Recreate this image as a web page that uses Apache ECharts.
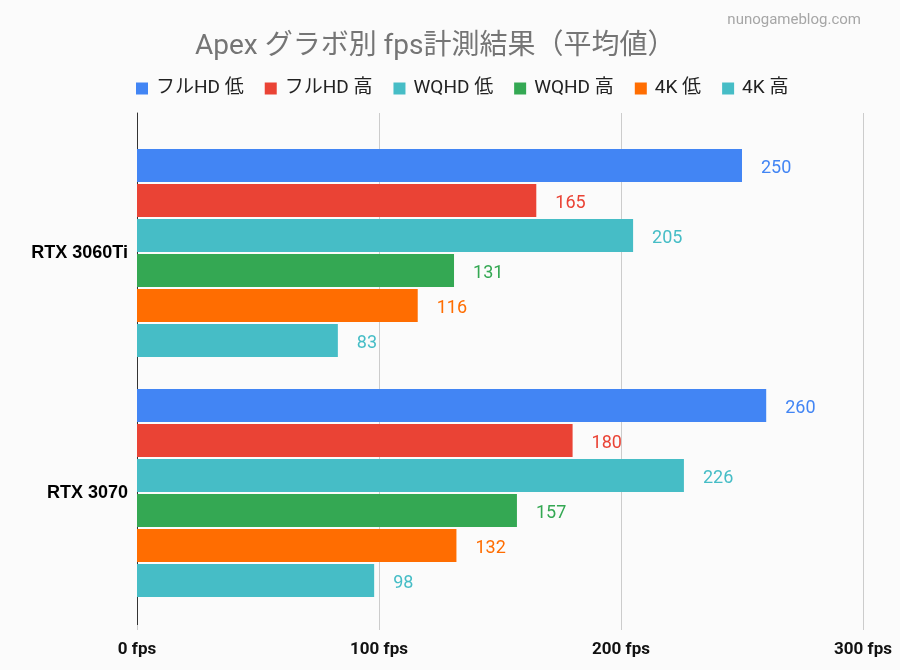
<!DOCTYPE html>
<html>
<head>
<meta charset="utf-8">
<script src="https://cdn.jsdelivr.net/npm/echarts@6/dist/echarts.min.js"></script>
<style>
  html, body { margin: 0; padding: 0; background: #fbfbfb; }
  #chart { width: 900px; height: 670px; }
</style>
</head>
<body>
<div id="chart"></div>
<script>
const categories = ['RTX 3060Ti', 'RTX 3070'];
const seriesNames = ['フルHD 低', 'フルHD 高', 'WQHD 低', 'WQHD 高', '4K 低', '4K 高'];
const fhdLow = [250, 260];
const fhdHigh = [165, 180];
const wqhdLow = [205, 226];
const wqhdHigh = [131, 157];
const k4Low = [116, 132];
const k4High = [83, 98];
const xTicks = [0, 100, 200, 300];
const colors = ['#4285f4', '#ea4335', '#46bdc6', '#34a853', '#ff6d01', '#46bdc6'];

const values = [fhdLow, fhdHigh, wqhdLow, wqhdHigh, k4Low, k4High];
const jpFont = 'Roboto, "Noto Sans CJK JP", sans-serif';

const chart = echarts.init(document.getElementById('chart'));
chart.setOption({
  backgroundColor: '#fbfbfb',
  animation: false,
  title: [
    {
      text: 'Apex グラボ別 fps計測結果（平均値）',
      left: 190, top: 28,
      textStyle: { color: '#757575', fontSize: 28, fontWeight: 'normal', fontFamily: jpFont }
    },
    {
      text: 'nunogameblog.com',
      right: 34, top: 8,
      textStyle: { color: '#a6a6a6', fontSize: 15, fontWeight: 'normal', fontFamily: 'Roboto, sans-serif' }
    }
  ],
  legend: {
    data: seriesNames,
    left: 131, top: 74,
    icon: 'rect', itemWidth: 12, itemHeight: 12, itemGap: 21,
    textStyle: { color: '#222', fontSize: 19, fontFamily: jpFont, padding: [0, 0, 0, 3] }
  },
  grid: [
    { left: 137, right: 37, top: 133, bottom: 57 },
    { left: 137, right: 37, top: 113, bottom: 45 }
  ],
  xAxis: [
    {
      gridIndex: 0, type: 'value', min: 0, max: 300, interval: 100,
      axisLabel: { show: false }, splitLine: { show: false },
      axisLine: { show: false }, axisTick: { show: false }
    },
    {
      gridIndex: 1, type: 'value', min: 0, max: 300, interval: 100,
      axisLine: { show: false },
      axisTick: { show: true, length: 5, lineStyle: { color: '#ccc' } },
      splitLine: { show: true, lineStyle: { color: '#cccccc' } },
      axisLabel: {
        margin: 16, color: '#111', fontSize: 17, fontWeight: 'bold',
        fontFamily: '"Liberation Sans Narrow", "Roboto", sans-serif',
        formatter: v => xTicks.includes(v) ? v + ' fps' : ''
      }
    }
  ],
  yAxis: [
    {
      gridIndex: 0, type: 'category', data: categories, inverse: true,
      axisLine: { show: false }, axisTick: { show: false },
      axisLabel: {
        margin: 9, color: '#000', fontSize: 18, fontWeight: 'bold',
        fontFamily: '"Liberation Sans", Arial, sans-serif'
      }
    },
    {
      gridIndex: 1, type: 'category', data: [''],
      axisLine: { show: true, lineStyle: { color: '#333', width: 1 } },
      axisTick: { show: false }, axisLabel: { show: false }
    }
  ],
  series: seriesNames.map((name, i) => ({
    name: name,
    type: 'bar',
    xAxisIndex: 0, yAxisIndex: 0,
    data: values[i],
    barWidth: 33,
    barGap: '6%',
    itemStyle: { color: colors[i] },
    label: {
      show: true, position: 'right', distance: 19, offset: [0, 3],
      color: colors[i], fontSize: 18, fontFamily: 'Roboto, sans-serif'
    }
  }))
});
</script>
</body>
</html>
